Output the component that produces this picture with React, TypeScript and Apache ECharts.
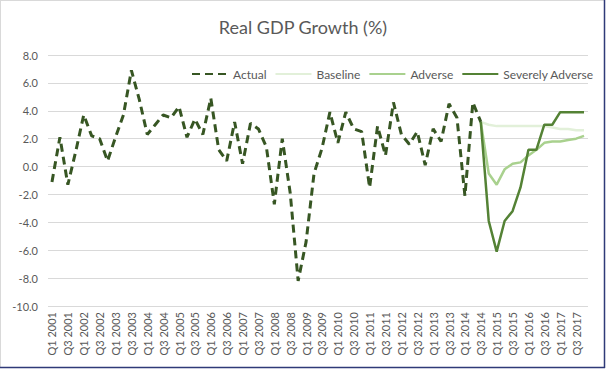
import React, { useEffect, useRef } from "react";
import * as echarts from "echarts";

const years = ["2001","2002","2003","2004","2005","2006","2007","2008","2009","2010","2011","2012","2013","2014","2015","2016","2017"];
const quarters = ["Q1", "Q2", "Q3", "Q4"];
const categories: string[] = [];
years.forEach((y) => quarters.forEach((q) => categories.push(q + " " + y)));

const actual: (number | null)[] = [
  -1.1, 2.1, -1.3, 1.1,
  3.7, 2.2, 2.0, 0.4,
  2.1, 3.7, 6.9, 4.8,
  2.3, 3.0, 3.7, 3.5,
  4.3, 2.1, 3.4, 2.3,
  4.9, 1.2, 0.4, 3.2,
  0.2, 3.1, 2.7, 1.4,
  -2.7, 2.0, -1.9, -8.2,
  -5.4, -0.5, 1.3, 3.9,
  1.7, 3.9, 2.7, 2.5,
  -1.5, 2.9, 0.8, 4.6,
  2.3, 1.6, 2.5, 0.1,
  2.7, 1.8, 4.5, 3.5,
  -2.1, 4.6, 3.2,
];

const pad = (n: number) => Array(n).fill(null);
const baseline: (number | null)[] = [...pad(54), 3.2, 3.0, 2.9, 2.9, 2.9, 2.9, 2.9, 2.9, 2.9, 2.8, 2.7, 2.7, 2.6, 2.6];
const adverse: (number | null)[] = [...pad(54), 3.2, -0.5, -1.3, -0.2, 0.2, 0.3, 0.8, 1.2, 1.7, 1.8, 1.8, 1.9, 2.0, 2.2];
const severelyAdverse: (number | null)[] = [...pad(54), 3.2, -3.9, -6.1, -3.9, -3.2, -1.5, 1.2, 1.2, 3.0, 3.0, 3.9, 3.9, 3.9, 3.9];

const FONT = "Lato, 'Open Sans', sans-serif";
const GREY = "#595959";

export default function App() {
  const ref = useRef<HTMLDivElement>(null);
  useEffect(() => {
    if (!ref.current) return;
    const chart = echarts.init(ref.current, null, { renderer: "svg" });
    const lineSeries = (name: string, data: (number | null)[], color: string, width: number, type: any) => ({
      name,
      type: "line",
      data,
      symbol: "none",
      smooth: false,
      connectNulls: false,
      lineStyle: { color, width, type },
      itemStyle: { color },
      z: name === "Actual" ? 3 : 2,
    });
    chart.setOption({
      animation: false,
      backgroundColor: "#ffffff",
      textStyle: { fontFamily: FONT },
      title: {
        text: "Real GDP Growth (%)",
        left: "center",
        top: 13,
        textStyle: { fontFamily: FONT, fontSize: 18, fontWeight: "normal", color: GREY },
      },
      legend: {
        left: 186,
        top: 63,
        itemWidth: 36,
        itemHeight: 12,
        itemGap: 8,
        itemStyle: { opacity: 0 },
        textStyle: { fontFamily: FONT, fontSize: 12, color: GREY },
        data: ["Actual", "Baseline", "Adverse", "Severely Adverse"],
      },
      grid: { left: 48, right: 18, top: 55, bottom: 64, containLabel: false },
      xAxis: {
        type: "category",
        data: categories,
        boundaryGap: true,
        axisLine: { show: false },
        axisTick: { show: false },
        axisLabel: {
          interval: 1,
          rotate: 90,
          fontFamily: FONT,
          fontSize: 11,
          color: GREY,
          margin: 6,
        },
      },
      yAxis: {
        type: "value",
        min: -10,
        max: 8,
        interval: 2,
        axisLine: { show: false },
        axisTick: { show: false },
        splitLine: { lineStyle: { color: "#D9D9D9", width: 1 } },
        axisLabel: {
          fontFamily: FONT,
          fontSize: 11,
          color: GREY,
          margin: 10,
          formatter: (v: number) => v.toFixed(1),
        },
      },
      graphic: [
        { type: "line", shape: { x1: 0.5, y1: 0, x2: 0.5, y2: 368 }, style: { stroke: "#D9D9D9", lineWidth: 1 } },
        { type: "line", shape: { x1: 0, y1: 0.5, x2: 604, y2: 0.5 }, style: { stroke: "#D9D9D9", lineWidth: 1 } },
        { type: "line", shape: { x1: 604.5, y1: 0, x2: 604.5, y2: 368 }, style: { stroke: "#2F3A78", lineWidth: 1.5 } },
        { type: "line", shape: { x1: 0, y1: 367.5, x2: 605, y2: 367.5 }, style: { stroke: "#2F3A78", lineWidth: 1.5 } },
      ],
      series: [
        lineSeries("Actual", actual, "#375623", 3, [8, 5]),
        lineSeries("Baseline", baseline, "#E2F0D9", 2.5, "solid"),
        lineSeries("Adverse", adverse, "#A9D18E", 2.5, "solid"),
        lineSeries("Severely Adverse", severelyAdverse, "#548235", 2.5, "solid"),
      ],
    });
    return () => chart.dispose();
  }, []);
  return (
    <div
      ref={ref}
      style={{ position: "fixed", left: 0, top: 0, width: 606, height: 370 }}
    />
  );
}
